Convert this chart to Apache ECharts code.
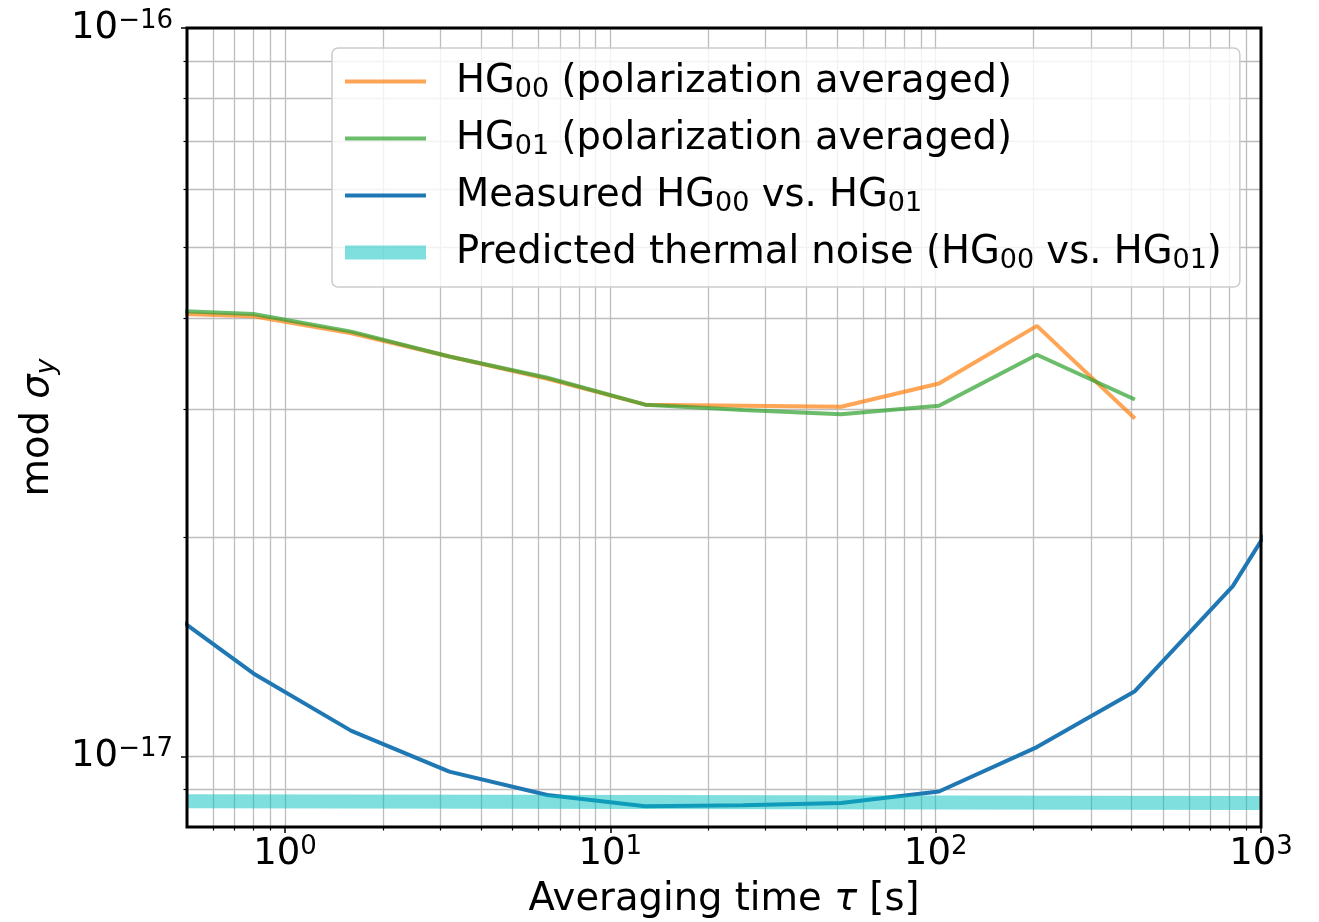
<!DOCTYPE html>
<html><head><meta charset="utf-8">
<script src="https://cdn.jsdelivr.net/npm/echarts@6/dist/echarts.min.js"></script>
<style>html,body{margin:0;padding:0;background:#fff}#c{width:1319px;height:922px}</style>
</head><body><div id="c"></div>
<script>
// ---- data ----
const tau = [0.4, 0.8, 1.6, 3.2, 6.4, 12.8, 25.6, 51.2, 102.4, 204.8, 409.6, 819.2, 1638.4];
const hg00 = [4.06e-17, 4.02e-17, 3.81e-17, 3.54e-17, 3.30e-17, 3.04e-17, 3.03e-17, 3.02e-17, 3.25e-17, 3.90e-17, 2.91e-17];
const hg01 = [4.10e-17, 4.05e-17, 3.83e-17, 3.54e-17, 3.31e-17, 3.04e-17, 2.99e-17, 2.95e-17, 3.03e-17, 3.56e-17, 3.09e-17];
const measured = [1.63e-17, 1.30e-17, 1.084e-17, 9.53e-18, 8.85e-18, 8.54e-18, 8.57e-18, 8.63e-18, 8.95e-18, 1.03e-17, 1.229e-17, 1.713e-17, 2.815e-17];
const thermalTau = [0.5, 1000];
const thermal = [8.68e-18, 8.63e-18];
const seriesNames = ['HG00 (polarization averaged)', 'HG01 (polarization averaged)', 'Measured HG00 vs. HG01', 'Predicted thermal noise (HG00 vs. HG01)'];

// ---- axes ticks ----
const xRange = [0.5, 1000];
const yRange = [8e-18, 1e-16];
const xMajor = [1, 10, 100, 1000];
const xMinor = [0.6, 0.7, 0.8, 0.9, 2, 3, 4, 5, 6, 7, 8, 9, 20, 30, 40, 50, 60, 70, 80, 90, 200, 300, 400, 500, 600, 700, 800, 900];
const yMajor = [1e-17, 1e-16];
const yMinor = [9e-18, 2e-17, 3e-17, 4e-17, 5e-17, 6e-17, 7e-17, 8e-17, 9e-17];
const xTitle = '{t|Averaging time }{i|τ}{t| [s]}';
const yTitle = '{t|mod }{i|σ}{s|y}';

const FF = 'DejaVu Sans';
const TF = 38.5;
const pairs = (xs, ys) => ys.map((v, i) => [xs[i], v]);
const powLabel = v => {
  const e = Math.round(Math.log10(v));
  return '{b|10}{s|' + (e < 0 ? '\u2212' + (-e) : String(e)) + '}';
};
const tickRich = {
  b: { fontFamily: FF, fontSize: 37, lineHeight: 40, verticalAlign: 'middle', color: '#000' },
  s: { fontFamily: FF, fontSize: 26, lineHeight: 18, verticalAlign: 'top', color: '#000' }
};
const gridLine = { show: true, lineStyle: { color: '#bdbdbd', width: 1.3 } };

const chart = echarts.init(document.getElementById('c'), null, { renderer: 'canvas' });
chart.setOption({
  animation: false,
  backgroundColor: '#fff',
  grid: { left: 187, right: 58, top: 28, bottom: 95, outerBoundsMode: 'none', containLabel: false,
    show: true, borderColor: '#000', borderWidth: 3, backgroundColor: 'transparent', z: 10 },
  legend: {
    orient: 'vertical', left: 332, top: 48,
    padding: [11.5, 18, 12.5, 6], itemGap: 13,
    itemWidth: 81, itemHeight: 13,
    backgroundColor: 'rgba(255,255,255,0.8)', borderColor: '#cccccc', borderWidth: 1.5, borderRadius: 6,
    lineStyle: { width: 'inherit' },
    itemStyle: { opacity: 0 },
    data: seriesNames,
    formatter: n => '{gap| }' + n.replace(/HG(\d\d)/g, (m, d) => 'HG{sub|' + d + '}'),
    textStyle: {
      fontFamily: FF, fontSize: TF, lineHeight: 44, color: '#000',
      rich: {
        gap: { width: 25, fontSize: TF, lineHeight: 44 },
        sub: { fontFamily: FF, fontSize: 27, lineHeight: 25, verticalAlign: 'bottom', color: '#000' }
      }
    }
  },
  xAxis: [
    {
      type: 'log', logBase: 10, min: xRange[0], max: xRange[1], position: 'bottom',
      name: xTitle, nameLocation: 'middle', nameGap: 53,
      nameTextStyle: { fontFamily: FF, fontSize: TF, color: '#000',
        rich: { t: { fontFamily: FF, fontSize: TF, color: '#000' }, i: { fontFamily: FF, fontSize: TF, fontStyle: 'italic', color: '#000' } } },
      axisLine: { show: false },
      axisTick: { show: true, inside: false, length: 6, customValues: xMajor, lineStyle: { color: '#000', width: 1.5 } },
      axisLabel: { show: true, margin: 7, customValues: xMajor, formatter: powLabel, rich: tickRich },
      splitLine: gridLine
    },
    {
      type: 'log', logBase: 10, min: xRange[0], max: xRange[1], position: 'bottom',
      axisLine: { show: false },
      axisTick: { show: true, inside: false, length: 3.5, customValues: xMinor, lineStyle: { color: '#000', width: 1.2 } },
      axisLabel: { show: false },
      splitLine: gridLine
    }
  ],
  yAxis: [
    {
      type: 'log', logBase: 10, min: yRange[0], max: yRange[1], position: 'left',
      name: yTitle, nameLocation: 'middle', nameGap: 112, nameRotate: 90,
      nameTextStyle: { fontFamily: FF, fontSize: TF, color: '#000',
        rich: {
          t: { fontFamily: FF, fontSize: TF, lineHeight: 44, color: '#000' },
          i: { fontFamily: FF, fontSize: TF, lineHeight: 44, fontStyle: 'italic', color: '#000' },
          s: { fontFamily: FF, fontSize: 27, lineHeight: 25, verticalAlign: 'bottom', fontStyle: 'italic', color: '#000' }
        } },
      axisLine: { show: false },
      axisTick: { show: true, inside: false, length: 6, customValues: yMajor, lineStyle: { color: '#000', width: 1.5 } },
      axisLabel: { show: true, margin: 14, customValues: yMajor, formatter: powLabel, rich: tickRich },
      splitLine: gridLine
    },
    {
      type: 'log', logBase: 10, min: yRange[0], max: yRange[1], position: 'left',
      axisLine: { show: false },
      axisTick: { show: true, inside: false, length: 3.5, customValues: yMinor, lineStyle: { color: '#000', width: 1.2 } },
      axisLabel: { show: false },
      splitLine: gridLine
    }
  ],
  series: [
    { name: seriesNames[0], type: 'line', symbol: 'none', data: pairs(tau, hg00),
      lineStyle: { color: 'rgba(255,127,14,0.7)', width: 4 }, itemStyle: { color: 'rgba(255,127,14,0.7)' } },
    { name: seriesNames[1], type: 'line', symbol: 'none', data: pairs(tau, hg01),
      lineStyle: { color: 'rgba(44,160,44,0.7)', width: 4 }, itemStyle: { color: 'rgba(44,160,44,0.7)' } },
    { name: seriesNames[2], type: 'line', symbol: 'none', data: pairs(tau, measured),
      lineStyle: { color: '#1f77b4', width: 4 }, itemStyle: { color: '#1f77b4' } },
    { name: seriesNames[3], type: 'line', symbol: 'none', data: pairs(thermalTau, thermal),
      lineStyle: { color: 'rgba(0,191,191,0.5)', width: 14, cap: 'butt' }, itemStyle: { color: 'rgba(0,191,191,0.5)' } }
  ]
});
</script></body></html>
